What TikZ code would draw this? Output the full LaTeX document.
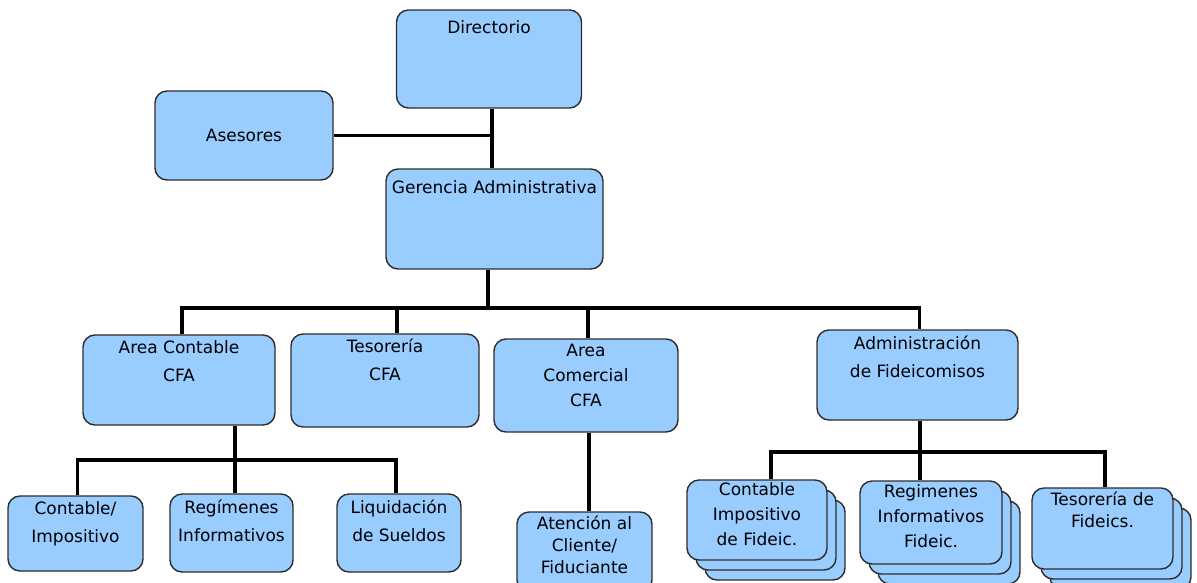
\documentclass[tikz,border=0pt]{standalone}
\usepackage{fontspec}
\setmainfont{DejaVu Sans}
\usetikzlibrary{shadows}
\definecolor{boxblue}{RGB}{153,204,255}
\definecolor{boxline}{RGB}{45,45,45}
\tikzset{
box/.style = {rectangle,rounded corners=12pt,draw=boxline,line width=1.4pt,fill=boxblue,
  font=\fontsize{17}{28}\selectfont},
lbl/.style = {anchor=north,yshift=-6pt,inner sep=0pt,align=center,font=\fontsize{17}{28}\selectfont},
pila/.style = {double copy shadow={shadow xshift=9pt,shadow yshift=-10pt}},
conn/.style = {line width=3.8pt,black}
}
\begin{document}
\begin{tikzpicture}[x=1pt,y=-1pt]
\useasboundingbox (0,0) rectangle (1197,582);
\node[box,minimum width=185,minimum height=98,label={[lbl,yshift=-5pt]north:Directorio}] (Dir) at(489,59) {};
\node[box,minimum width=178,minimum height=89] (As) at(244,135.5) {Asesores};
\node[box,minimum width=217,minimum height=100,label={[lbl,yshift=-6pt]north:Gerencia Administrativa}] (GA) at(494.5,219) {};
\node[box,minimum width=192,minimum height=90,label={[lbl]north:{Area Contable\\CFA}}] (AC) at(179,380) {};
\node[box,minimum width=188,minimum height=93,label={[lbl,yshift=1pt]north:{Tesorería\\CFA}}] (Tes) at(385,380.5) {};
\node[box,minimum width=184,minimum height=93,label={[lbl,font=\fontsize{17}{25}\selectfont]north:{Area\\Comercial\\CFA}}] (ACom) at(586,385.5) {};
\node[box,minimum width=201,minimum height=90,label={[lbl]north:{Administración\\de Fideicomisos}}] (Adm) at(917.5,375) {};
\node[box,minimum width=135,minimum height=75,label={[lbl]north:{Contable/\\Impositivo}}] (CI) at(75.5,533.5) {};
\node[box,minimum width=123,minimum height=78,label={[lbl]north:{Regímenes\\Informativos}}] (Reg) at(231.5,533) {};
\node[box,minimum width=124,minimum height=78,label={[lbl]north:{Liquidación\\de Sueldos}}] (Liq) at(399,533) {};
\node[box,minimum width=135,minimum height=80,label={[lbl,yshift=2pt,font=\fontsize{17}{22}\selectfont]north:{Atención al\\Cliente/\\Fiduciante}}] (At) at(584.5,552) {};
\node[box,pila,minimum width=140,minimum height=80,label={[lbl,yshift=3pt,font=\fontsize{17}{25}\selectfont]north:{Contable\\Impositivo\\de Fideic.}}] (CIF) at(757,520) {};
\node[box,pila,minimum width=142,minimum height=83,label={[lbl,yshift=2pt,font=\fontsize{17}{25}\selectfont]north:{Regimenes\\Informativos\\Fideic.}}] (RIF) at(931,522.5) {};
\node[box,pila,minimum width=141,minimum height=81,label={[lbl,yshift=2pt,font=\fontsize{17}{22}\selectfont]north:{Tesorería de\\Fideics.}}] (TF) at(1102.5,528.5) {};
% buses
\coordinate (B1) at(488,308);
\coordinate (B2) at(235,460);
\coordinate (B3) at(920,452);
\draw[conn] ([xshift=3pt]Dir.south) -- ([xshift=3pt]Dir.south |- GA.north);
\draw[conn] (As.east) -- ([xshift=3pt]As.east -| Dir.south);
\draw[conn] (B1 |- GA.south) -- (B1);
\draw[conn] ([xshift=3pt]AC.north) |- (B1) -| ([xshift=2pt]Adm.north);
\draw[conn] ([xshift=12pt]Tes.north) -- ([xshift=12pt]Tes.north |- B1);
\draw[conn] ([xshift=2pt]ACom.north) -- ([xshift=2pt]ACom.north |- B1);
\draw[conn] (B2 |- AC.south) -- (B2);
\draw[conn] ([xshift=2pt]CI.north) |- (B2) -| ([xshift=-3pt]Liq.north);
\draw[conn] ([xshift=3.5pt]Reg.north) -- ([xshift=3.5pt]Reg.north |- B2);
\draw[conn] ([xshift=3pt]ACom.south) -- ([xshift=3pt]ACom.south |- At.north);
\draw[conn] (B3 |- Adm.south) -- (B3);
\draw[conn] ([xshift=14pt]CIF.north) |- (B3) -| ([xshift=2.5pt]TF.north);
\draw[conn] ([xshift=-11pt]RIF.north) -- ([xshift=-11pt]RIF.north |- B3);
\end{tikzpicture}
\end{document}
